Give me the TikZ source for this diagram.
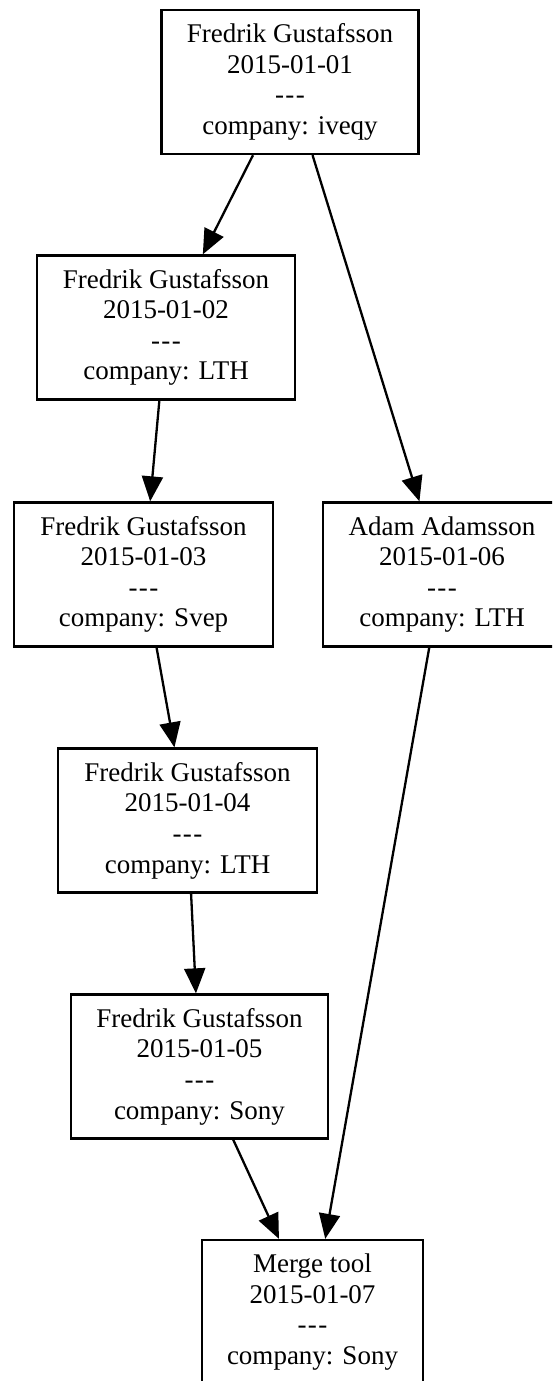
\documentclass[tikz,border=0pt]{standalone}
\usepackage{fontspec}
\setmainfont{Liberation Serif}
\usetikzlibrary{arrows.meta}

% separator line inside each commit box
\newcommand{\sepline}{-\kern1.5pt-\kern1.5pt-}

\tikzset{
  commit/.style={draw, line width=2.3pt, minimum height=144pt, inner sep=0pt,
    align=center, font=\fontsize{27}{30.6}\selectfont},
  link/.style={line width=2.3pt, -{Triangle[length=25pt, width=21pt]}}
}

\begin{document}
\begin{tikzpicture}[x=1pt, y=-1pt]
  \useasboundingbox (0,0) rectangle (552,1381);
  \clip (0,0) rectangle (552,1381);

  % commits
  \node[commit, minimum width=257pt] (c1) at (290,82)
    {Fredrik Gustafsson\\2015-01-01\\\sepline\\company: iveqy};
  \node[commit, minimum width=258pt] (c2) at (166,327.5)
    {Fredrik Gustafsson\\2015-01-02\\\sepline\\company: LTH};
  \node[commit, minimum width=259pt] (c3) at (143.5,574.5)
    {Fredrik Gustafsson\\2015-01-03\\\sepline\\company: Svep};
  \node[commit, minimum width=238pt] (c6) at (442,574.5)
    {Adam Adamsson\\2015-01-06\\\sepline\\company: LTH};
  \node[commit, minimum width=259pt] (c4) at (187.5,820.5)
    {Fredrik Gustafsson\\2015-01-04\\\sepline\\company: LTH};
  \node[commit, minimum width=257pt] (c5) at (199.5,1066.5)
    {Fredrik Gustafsson\\2015-01-05\\\sepline\\company: Sony};
  \node[commit, minimum width=221pt] (c7) at (312.5,1312)
    {Merge tool\\2015-01-07\\\sepline\\company: Sony};

  % history
  \draw[link] (c1) -- (c2);
  \draw[link] (c1) -- (c6);
  \draw[link] (c2) -- (c3);
  \draw[link] (c3) -- (c4);
  \draw[link] (c4) -- (c5);
  \draw[link] (c5) -- (c7);
  \draw[link] (c6) -- (c7);
\end{tikzpicture}
\end{document}
